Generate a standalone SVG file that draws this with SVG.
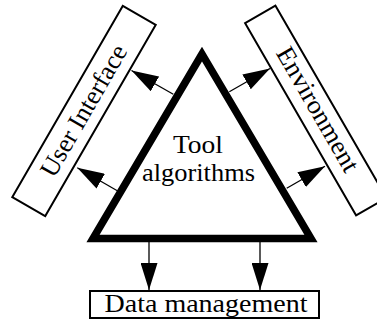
<svg xmlns="http://www.w3.org/2000/svg" width="377" height="323" viewBox="0 0 377 323">
  <defs>
    <marker id="head" markerUnits="userSpaceOnUse" markerWidth="28" markerHeight="17" refX="27" refY="8.5" orient="auto" viewBox="0 0 28 17">
      <path d="M0,0 L27,8.5 L0,17 Z" fill="#000"/>
    </marker>
  </defs>
  <style>
    .box { fill: #fff; stroke: #000; stroke-width: 2; }
    .lbl { font-family: "Liberation Serif", "Times New Roman", serif; font-size: 26px; fill: #000; }
    .tri { fill: #fff; stroke: #000; stroke-width: 7.5; stroke-linejoin: miter; stroke-miterlimit: 10; }
    .arr { fill: none; stroke: #000; stroke-width: 1.3; marker-end: url(#head); }
  </style>
  <rect width="377" height="323" fill="#fff"/>

  <g id="user-interface" transform="translate(84,111) rotate(-60)">
    <rect class="box" x="-110.5" y="-19" width="221" height="38"/>
    <text class="lbl" x="0" y="8" text-anchor="middle" textLength="148" lengthAdjust="spacingAndGlyphs">User Interface</text>
  </g>

  <g id="environment" transform="translate(315.75,110.5) rotate(60)">
    <rect class="box" x="-111" y="-17.5" width="222" height="35"/>
    <text class="lbl" x="0" y="6" text-anchor="middle" textLength="140" lengthAdjust="spacingAndGlyphs">Environment</text>
  </g>

  <g id="data-management">
    <rect class="box" x="90" y="291" width="229" height="27"/>
    <text class="lbl" x="206" y="312" text-anchor="middle" textLength="203" lengthAdjust="spacingAndGlyphs">Data management</text>
  </g>

  <g id="tool-algorithms">
    <polygon class="tri" points="202,54 93,238.5 311,238.5"/>
    <text class="lbl" x="198" y="153" text-anchor="middle" textLength="50" lengthAdjust="spacingAndGlyphs">Tool</text>
    <text class="lbl" x="198.5" y="181" text-anchor="middle" textLength="113" lengthAdjust="spacingAndGlyphs">algorithms</text>
  </g>

  <g id="connectors">
    <line class="arr" x1="173.3" y1="94.3" x2="131.5" y2="70.5"/>
    <line class="arr" x1="117.3" y1="190.7" x2="77.3" y2="167.8"/>
    <line class="arr" x1="229.3" y1="91.7" x2="270" y2="68.5"/>
    <line class="arr" x1="286.7" y1="188.3" x2="325" y2="166.2"/>
    <line class="arr" x1="149" y1="242" x2="149" y2="290"/>
    <line class="arr" x1="260" y1="242" x2="260" y2="290"/>
  </g>
</svg>
